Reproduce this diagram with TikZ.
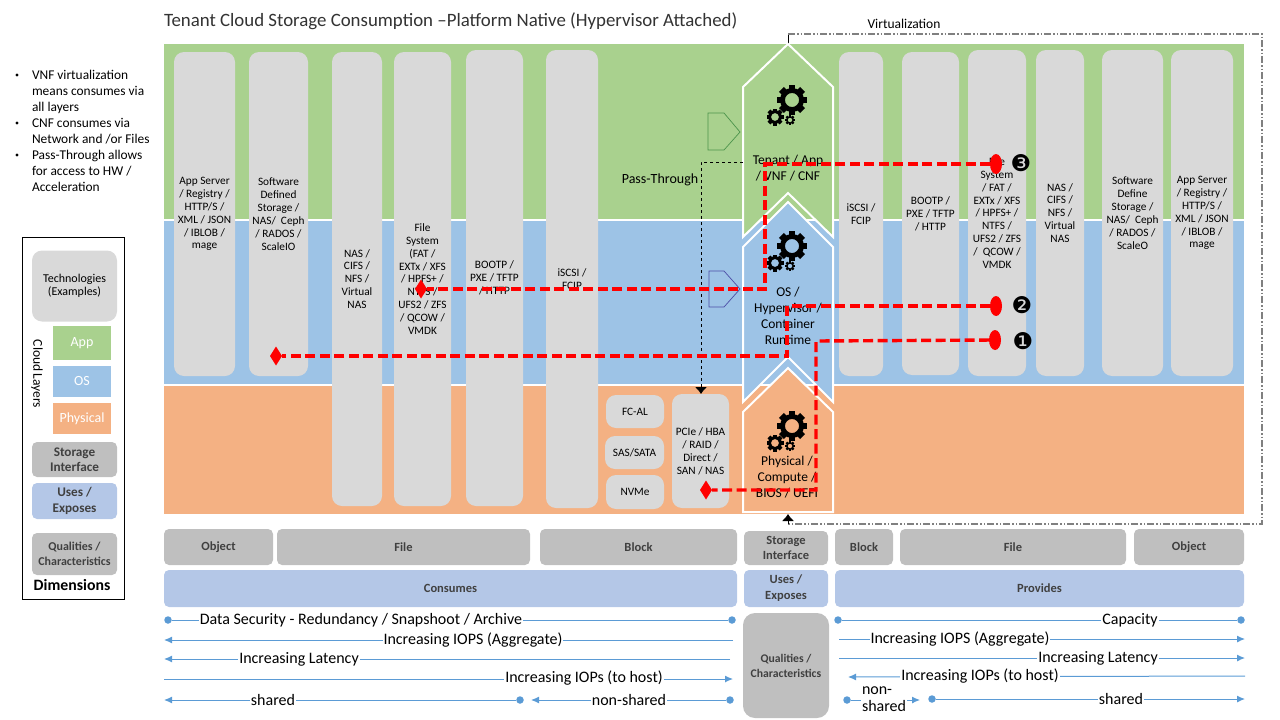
\documentclass[tikz,border=0pt]{standalone}
\usepackage{fontspec}
\setmainfont{Carlito}
\newfontfamily\dingfont{DejaVu Sans}
\usetikzlibrary{shapes.geometric, arrows.meta}
\definecolor{appgreen}{HTML}{A9D18E}
\definecolor{osblue}{HTML}{9DC3E6}
\definecolor{hworange}{HTML}{F4B183}
\definecolor{techgray}{HTML}{D9D9D9}
\definecolor{dimgray}{HTML}{BFBFBF}
\definecolor{usesblue}{HTML}{B4C7E7}
\definecolor{qualline}{HTML}{5B9BD5}
\tikzset{every node/.style={inner sep=0pt, outer sep=0pt, align=center},
         techbox/.style={fill=techgray, rounded corners=10, font=\fontsize{11.3}{12.9}\selectfont},
         band/.style={draw=white, line width=1.5},
         chevron/.style={draw=white, line width=2, miter limit=10},
         pentagon/.style={line width=0.7},
         dimbox/.style={fill=dimgray, rounded corners=5, font=\fontsize{12.5}{15.5}\selectfont\bfseries, text=black!75},
         usesbox/.style={fill=usesblue, rounded corners=5, font=\fontsize{12.5}{16}\selectfont\bfseries, text=black!75},
         layerbox/.style={font=\fontsize{14}{16}\selectfont, text=white},
         stacktext/.style={font=\fontsize{13.5}{16}\selectfont},
         reddash/.style={draw=red, line width=3.4, dash pattern=on 10 off 4.5},
         redmark/.style={fill=red, ellipse, minimum width=12, minimum height=20},
         reddiamond/.style={fill=red, diamond, minimum width=12, minimum height=19},
         ringnum/.style={font=\fontsize{23}{23}\dingfont},
         blacktip/.style={draw=black, line width=0.8, -{Latex[length=7,width=12]}},
         virtline/.style={draw=gray, line width=1.5, dash pattern=on 7 off 2 on 1.5 off 2 on 1.5 off 2},
         qualdot/.style={fill=qualline, circle, minimum size=7.5},
         qualrule/.style={draw=qualline, line width=1},
         qualtip/.style={qualrule, -{Latex[length=8,width=7]}},
         qualtext/.style={fill=white, inner xsep=1, font=\fontsize{16}{17}\selectfont},
         bullettext/.style={align=left, anchor=north west, font=\fontsize{13.4}{16}\selectfont},
         cog/.pic={
           \fill [even odd rule] (0,0) circle (0.8) (0,0) circle (0.47);
           \foreach \a in {0,45,...,315} {\fill [rotate=\a] (-0.23,0.65) rectangle (0.23,1);}
         },
         cogs/.pic={
           \pic [scale=15] at (0,0) {cog};
           \pic [scale=8.5] at (-17,17) {cog};
           \pic [scale=5] at (-2,20) {cog};
         }
        }

\begin{document}
\begin{tikzpicture}[x=1pt, y=-1pt]
  \useasboundingbox (0,0) rectangle (1280,720);
  \node [font=\fontsize{18.85}{20}\selectfont, anchor=west, text=black!80] (title) at (164,21) {Tenant Cloud Storage Consumption –Platform Native (Hypervisor Attached)};
  % layers
  \fill [appgreen] (164,44) rectangle (1244,220);
  \fill [osblue] (164,220) rectangle (1244,385);
  \fill [hworange] (164,385) rectangle (1244,514);
  \draw [band] (164,220) -- (1244,220);
  \draw [band] (164,385) -- (1244,385);
  % virtualization
  \node [font=\fontsize{13.5}{15}\selectfont] (virt) at (904,24) {Virtualization};
  \coordinate (virtstart) at (788,44);
  \coordinate (virtend) at (788,514);
  \coordinate (virtA) at (788,34);
  \coordinate (virtB) at (1262,34);
  \coordinate (virtC) at (1262,524);
  \coordinate (virtD) at (788,524);
  \draw [black, line width=0.8] (virtstart) -- (virtA);
  \draw [virtline] (virtA) -- (virtB) -- (virtC) -- (virtD);
  \draw [blacktip] (virtD) -- (virtend);
  % stack
  \draw [chevron, fill=appgreen] (743,87) -- (788,44) -- (833,87) -- (833,237) -- (788,193) -- (743,237) -- cycle;
  \draw [chevron, fill=osblue] (743,247) -- (788,202) -- (833,247) -- (833,402) -- (788,357) -- (743,402) -- cycle;
  \draw [chevron, fill=hworange] (743,412) -- (788,368) -- (833,412) -- (833,512) -- (743,512) -- cycle;
  \pic at (792,100) {cogs};
  \pic at (792,246) {cogs};
  \pic at (792,426) {cogs};
  \node [stacktext] (tenant) at (788,168) {Tenant / App\\/ VNF / CNF};
  \node [stacktext] (hyper) at (788,316) {OS /\\Hypervisor /\\Container\\Runtime};
  \node [stacktext] (compute) at (787,477) {Physical /\\Compute /\\BIOS / UEFI};
  \draw [pentagon, draw=green!40!black!70, fill=appgreen] (708,113) -- (724,113) -- (740,132) -- (724,150) -- (708,150) -- cycle;
  \draw [pentagon, draw=blue!50!black!70, fill=osblue] (709,271) -- (724,271) -- (740,289) -- (724,307) -- (709,307) -- cycle;
  % consumes
  \node [techbox, minimum width=61, minimum height=324] (conapp) at (204.5,214) {App Server\\/ Registry /\\HTTP/S /\\XML / JSON\\/ IBLOB /\\mage};
  \node [techbox, minimum width=59, minimum height=324] (consds) at (278.5,214) {Software\\Defined\\Storage /\\NAS/~ Ceph\\/ RADOS /\\ScaleIO};
  \node [techbox, minimum width=50, minimum height=454] (connas) at (357,279) {NAS /\\CIFS /\\NFS /\\Virtual\\NAS};
  \node [techbox, minimum width=57, minimum height=454] (confile) at (422.5,279) {File\\System\\(FAT /\\EXTx / XFS\\/ HPFS+ /\\NTFS /\\UFS2 / ZFS\\/ QCOW /\\VMDK};
  \node [techbox, minimum width=57, minimum height=456] (conboot) at (494.5,278) {BOOTP /\\PXE / TFTP\\/ HTTP};
  \node [techbox, minimum width=52, minimum height=458] (coniscsi) at (572,279) {iSCSI /\\FCIP};
  \node [techbox, minimum width=58, minimum height=33] (fcal) at (635,411.5) {FC-AL};
  \node [techbox, minimum width=59, minimum height=33] (sas) at (634.5,452.5) {SAS/SATA};
  \node [techbox, minimum width=58, minimum height=34] (nvme) at (635,492) {NVMe};
  \node [techbox, minimum width=57, minimum height=114] (pcie) at (700.5,451) {PCIe / HBA\\/ RAID /\\Direct /\\SAN / NAS};
  % provides
  \node [techbox, minimum width=44, minimum height=324] (prviscsi) at (861,214) {iSCSI /\\FCIP};
  \node [techbox, minimum width=57, minimum height=323] (prvboot) at (930.5,213.5) {BOOTP /\\PXE / TFTP\\/ HTTP};
  \node [techbox, minimum width=58, minimum height=326] (prvfile) at (997,213) {File\\System\\/ FAT /\\EXTx / XFS\\/ HPFS+ /\\NTFS /\\UFS2 / ZFS\\/~ QCOW /\\VMDK};
  \node [techbox, minimum width=48, minimum height=326] (prvnas) at (1060,213) {NAS /\\CIFS /\\NFS /\\Virtual\\NAS};
  \node [techbox, minimum width=61, minimum height=326] (prvsds) at (1132.5,213) {Software\\Define\\Storage /\\NAS/~ Ceph\\/ RADOS /\\ScaleO};
  \node [techbox, minimum width=62, minimum height=326] (prvapp) at (1202,213) {App Server\\/ Registry /\\HTTP/S /\\XML / JSON\\/ IBLOB /\\mage};
  % passthrough
  \node [font=\fontsize{14}{16}\selectfont] (pass) at (660,180) {Pass-Through};
  \coordinate (passA) at (743,162);
  \coordinate (passB) at (701,162);
  \draw [blacktip, dashed] (passA) -- (passB) -- (pcie.north -| passB);
  % flows
  \node [redmark] (mark3) at (996,164) {};
  \node [redmark] (mark2) at (996,306) {};
  \node [redmark] (mark1) at (995,340) {};
  \node [reddiamond] (end3) at (421,289) {};
  \node [reddiamond] (end2) at (276,356) {};
  \node [reddiamond] (end1) at (706,490) {};
  \coordinate (bend3A) at (765,164);
  \coordinate (bend3B) at (765,289);
  \coordinate (bend2A) at (787,306);
  \coordinate (bend2B) at (787,356);
  \coordinate (bend1A) at (816,341);
  \coordinate (bend1B) at (816,490);
  \draw [reddash] (mark3) -- (bend3A) -- (bend3B) -- (end3);
  \draw [reddash] (mark2) -- (bend2A) -- (bend2B) -- (end2);
  \draw [reddash] (mark1) -- (bend1A) -- (bend1B) -- (end1);
  \node [ringnum] (num3) at (1021,163) {❸};
  \node [ringnum] (num2) at (1022,305) {❷};
  \node [ringnum] (num1) at (1023,341) {❶};
  % notes
  \node [bullettext] (notevnf) at (32,70) {VNF virtualization\\means consumes via\\all layers};
  \node [bullettext] (notecnf) at (32,118) {CNF consumes via\\Network and /or Files};
  \node [bullettext] (notepass) at (32,150) {Pass-Through allows\\for access to HW /\\Acceleration};
  \fill (17,75) circle (1.7) (17,123) circle (1.7) (17,155) circle (1.7);
  % legend
  \node [draw=black, line width=0.8, minimum width=102, minimum height=362] (legend) at (73,418.5) {};
  \node [techbox, rounded corners=10, minimum width=85, minimum height=71, font=\fontsize{12}{13}\selectfont] (legtech) at (74.5,286) {Technologies\\(Examples)};
  \node [layerbox, fill=appgreen, minimum width=58, minimum height=34] (legapp) at (82,343) {App};
  \node [layerbox, fill=osblue, minimum width=58, minimum height=31] (legos) at (82,381.5) {OS};
  \node [layerbox, fill=hworange, minimum width=58, minimum height=31] (legphys) at (82,418.5) {Physical};
  \node [rotate=-90, font=\fontsize{13.5}{15}\selectfont] (legcloud) at (37,374) {Cloud\,Layers};
  \node [dimbox, minimum width=85, minimum height=35, font=\fontsize{13.2}{15.5}\selectfont\bfseries] (legstore) at (74.5,459.5) {Storage\\Interface};
  \node [usesbox, minimum width=85, minimum height=36, font=\fontsize{13.2}{16}\selectfont\bfseries] (leguses) at (74.5,501) {Uses /\\Exposes};
  \node [dimbox, minimum width=85, minimum height=42, font=\fontsize{12}{15}\selectfont\bfseries] (legqual) at (74.5,554) {Qualities /\\Characteristics};
  \node [font=\fontsize{15.8}{17}\selectfont\bfseries] (legdim) at (72,585) {Dimensions};
  % bottom rows
  \node [dimbox, minimum width=109, minimum height=36] (objL) at (218.5,547) {Object};
  \node [dimbox, minimum width=253, minimum height=36] (fileL) at (403.5,547) {File};
  \node [dimbox, minimum width=197, minimum height=36] (blockL) at (638.5,547) {Block};
  \node [dimbox, minimum width=84, minimum height=34] (iface) at (786,548) {Storage\\Interface};
  \node [dimbox, minimum width=58, minimum height=36] (blockR) at (864,547) {Block};
  \node [dimbox, minimum width=226, minimum height=36] (fileR) at (1013,547) {File};
  \node [dimbox, minimum width=110, minimum height=36] (objR) at (1189,547) {Object};
  \node [usesbox, minimum width=573, minimum height=37] (consumes) at (450.5,588.5) {Consumes};
  \node [usesbox, minimum width=84, minimum height=37] (exposes) at (786,588.5) {Uses /\\Exposes};
  \node [usesbox, minimum width=409, minimum height=37] (provides) at (1039.5,588.5) {Provides};
  \node [dimbox, rounded corners=12, minimum width=86, minimum height=105, font=\fontsize{11.7}{15}\selectfont\bfseries] (quals) at (786,665.5) {Qualities /\\Characteristics};
  % qualities left
  \node [qualdot] (secA) at (168,620) {};
  \node [qualdot] (secB) at (732,620) {};
  \draw [qualrule] (secA) -- (secB);
  \node [qualtext] (sectext) at (361,620) {Data Security - Redundancy / Snapshoot / Archive};
  \coordinate (aggA) at (733,640);
  \coordinate (aggB) at (164,640);
  \draw [qualtip] (aggA) -- (aggB);
  \node [qualtext] (aggtext) at (473,640) {Increasing IOPS (Aggregate)};
  \coordinate (latA) at (730,659);
  \coordinate (latB) at (164,659);
  \draw [qualtip] (latA) -- (latB);
  \node [qualtext] (lattext) at (299,659) {Increasing Latency};
  \coordinate (hostA) at (164,679);
  \coordinate (hostB) at (733,679);
  \draw [qualtip] (hostA) -- (hostB);
  \node [qualtext] (hosttext) at (584,678) {Increasing IOPs (to host)};
  \node [qualdot] (shareA) at (520,700) {};
  \coordinate (shareB) at (164,700);
  \draw [qualtip] (shareA) -- (shareB);
  \node [qualtext] (sharetext) at (273,700) {shared};
  \node [qualdot] (nonA) at (730,700) {};
  \coordinate (nonB) at (531,700);
  \draw [qualtip] (nonA) -- (nonB);
  \node [qualtext] (nontext) at (629,700) {non-shared};
  % qualities right
  \node [qualdot] (capA) at (838,620) {};
  \node [qualdot] (capB) at (1241,620) {};
  \draw [qualrule] (capA) -- (capB);
  \node [qualtext] (captext) at (1130,620) {Capacity};
  \coordinate (aggC) at (839,639);
  \coordinate (aggD) at (1245,639);
  \draw [qualtip] (aggC) -- (aggD);
  \node [qualtext] (aggtextR) at (960,639) {Increasing IOPS (Aggregate)};
  \coordinate (latC) at (839,658);
  \coordinate (latD) at (1245,658);
  \draw [qualtip] (latC) -- (latD);
  \node [qualtext] (lattextR) at (1098,658) {Increasing Latency};
  \coordinate (hostC) at (1245,676);
  \coordinate (hostD) at (848,677);
  \draw [qualtip] (hostC) -- (hostD);
  \node [qualtext] (hosttextR) at (980,676) {Increasing IOPs (to host)};
  \node [qualdot] (nonC) at (847,700) {};
  \coordinate (nonD) at (920,700);
  \draw [qualtip] (nonC) -- (nonD);
  \node [qualtext, align=left, anchor=west] (nontextR) at (861,699) {non-\\shared};
  \node [qualdot] (shareC) at (932,699) {};
  \coordinate (shareD) at (1245,699);
  \draw [qualtip] (shareC) -- (shareD);
  \node [qualtext] (sharetextR) at (1121,699) {shared};
\end{tikzpicture}
\end{document}
